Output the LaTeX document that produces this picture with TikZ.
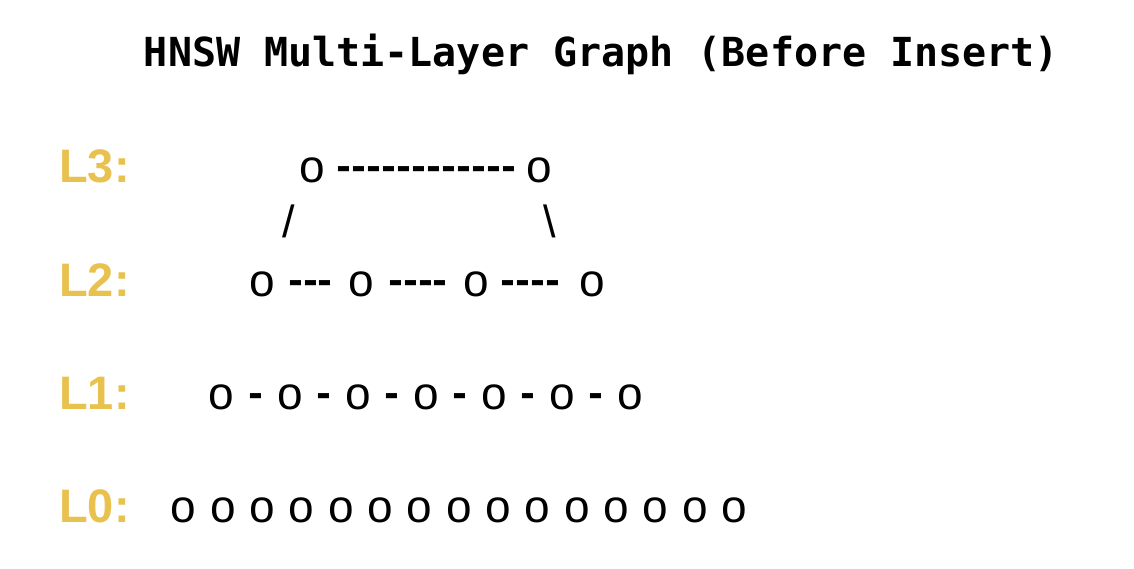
\documentclass[tikz,border=0pt]{standalone}
\usepackage{fontspec}
\newfontfamily\titlefont{DejaVu Sans Mono}
\newfontfamily\glyphfont[Ligatures=TeXOff]{Liberation Sans}
\newfontfamily\dashfont[Ligatures=TeXOff]{DejaVu Sans}
\newfontfamily\labelfont{Liberation Sans}
\definecolor{gold}{HTML}{E8C14F}
\tikzset{
  titlestyle/.style={inner sep=0pt, anchor=base, font=\titlefont\bfseries\fontsize{40}{44}\selectfont, text=black},
  layerlabel/.style={inner sep=0pt, anchor=base west, font=\labelfont\bfseries\fontsize{47}{50}\selectfont, text=gold},
  vertex/.style={inner sep=0pt, anchor=base, font=\glyphfont\fontsize{46}{50}\selectfont, text=black},
  edgetext/.style={inner sep=0pt, anchor=base, yshift=3pt, font=\dashfont\bfseries\fontsize{36}{50}\selectfont, text=black},
  slashtext/.style={inner sep=0pt, anchor=base, font=\glyphfont\fontsize{45}{50}\selectfont, text=black},
}
\begin{document}
\begin{tikzpicture}[x=1pt,y=-1pt]
\useasboundingbox (0,0) rectangle (1134,568);
% title
\node[titlestyle] (title) at (601.5,66) {HNSW Multi-Layer Graph (Before Insert)};
% layer labels
\node[layerlabel] (lab3) at (59,182) {L3:};
\node[layerlabel] (lab2) at (59,296) {L2:};
\node[layerlabel] (lab1) at (59,409) {L1:};
\node[layerlabel] (lab0) at (59,522) {L0:};
% L3
\node[vertex] (a1) at (312.5,182) {o};
\node[vertex] (a2) at (539,182) {o};
\node[edgetext] (e31) at (426.5,182) {------------};
% links L3 - L2
\node[slashtext] (s1) at (288.5,237) {/};
\node[slashtext] (s2) at (550,237) {\textbackslash};
% L2
\node[vertex] (b1) at (262,296) {o};
\node[vertex] (b2) at (361.5,296) {o};
\node[vertex] (b3) at (476.5,296) {o};
\node[vertex] (b4) at (592,296) {o};
\node[edgetext] (e21) at (310.5,296) {---};
\node[edgetext] (e22) at (418,296) {----};
\node[edgetext] (e23) at (530.5,296) {----};
% L1
\foreach \k in {0,...,6}{
  \node[vertex] (c\k) at ({221.7+68.1*\k},409) {o};
}
\foreach \k in {0,...,5}{
  \node[edgetext] (d\k) at ({255.75+68.1*\k},409) {-};
}
% L0
\foreach \k in {0,...,14}{
  \node[vertex] (z\k) at ({183.5+39.35*\k},522) {o};
}
\end{tikzpicture}
\end{document}
